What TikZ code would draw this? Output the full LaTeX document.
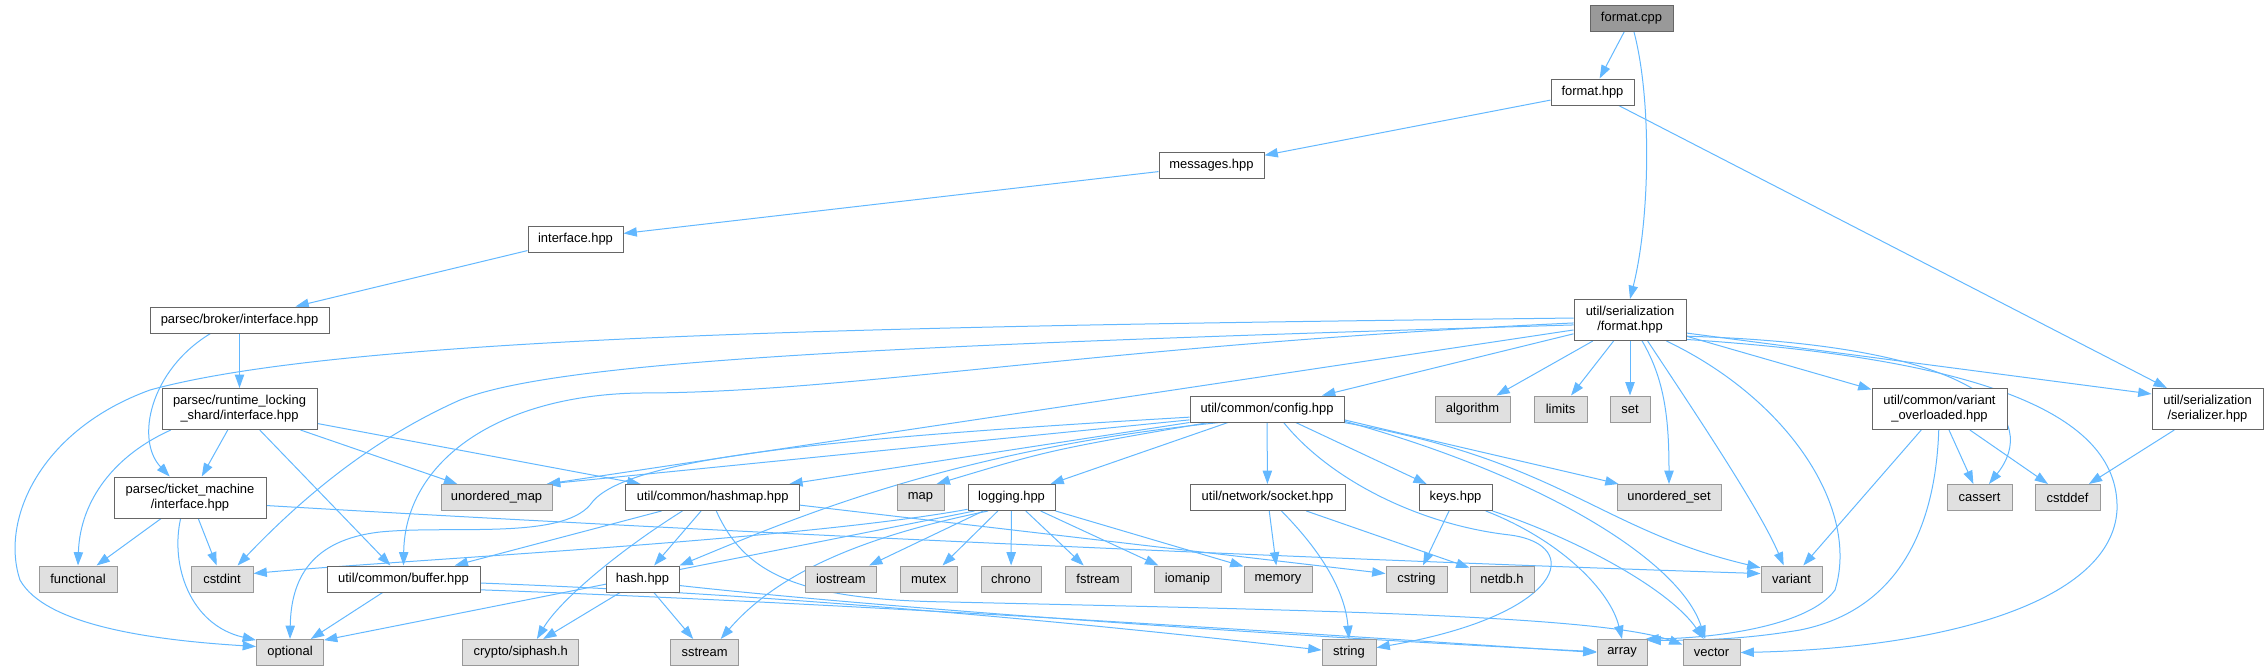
\documentclass[tikz,border=0pt]{standalone}
\usepackage{fontspec}
\setmainfont{Liberation Sans}
\usetikzlibrary{arrows.meta}
\definecolor{bordA}{HTML}{666666}
\definecolor{bordB}{HTML}{999999}
\definecolor{fillB}{HTML}{E0E0E0}
\definecolor{fillC}{HTML}{999999}
\definecolor{edgeC}{HTML}{63B8FF}
\pgfdeclarelayer{bg}
\pgfsetlayers{bg,main}
\newcommand\bx[7]{\node[#1, minimum width=#5*0.75pt, minimum height=#6*0.75pt] (#2) at (#3,#4) {#7};}
\tikzset{
  nbase/.style={draw, rectangle, inner sep=0pt, font=\fontsize{9.7}{11.25}\selectfont, align=center, line width=0.75pt},
  wnode/.style={nbase, draw=bordA, fill=white},
  gnode/.style={nbase, draw=bordB, fill=fillB},
  snode/.style={nbase, draw=bordA, fill=fillC},
  edg/.style={draw=edgeC, line width=0.75pt, -{Triangle[length=10pt,width=7pt]}}
}
\begin{document}
\begin{tikzpicture}[x=0.75pt,y=-0.75pt]
\useasboundingbox (0,0) rectangle (2268,671);
\bx{snode}{fcpp}{1631.5}{18}{83}{26}{format.cpp}
\bx{wnode}{fhpp}{1592.5}{92}{83}{26}{format.hpp}
\bx{wnode}{msg}{1211.5}{165.5}{105}{26}{messages.hpp}
\bx{wnode}{iface}{575.5}{239}{95}{26}{interface.hpp}
\bx{wnode}{broker}{239.5}{320}{179}{26}{parsec/broker/interface.hpp}
\bx{wnode}{sfmt}{1630}{320}{112}{41}{util/serialization\\/format.hpp}
\bx{wnode}{rls}{239.5}{409}{155}{41}{parsec/runtime\_locking\\\_shard/interface.hpp}
\bx{wnode}{tm}{190}{497.5}{152}{41}{parsec/ticket\_machine\\/interface.hpp}
\bx{gnode}{umap}{496.5}{497.5}{111}{26}{unordered\_map}
\bx{wnode}{hashmap}{712.7}{497.5}{173.5}{26}{util/common/hashmap.hpp}
\bx{wnode}{config}{1267}{409}{154}{26}{util/common/config.hpp}
\bx{gnode}{algorithm}{1472.5}{409}{75}{26}{algorithm}
\bx{gnode}{limits}{1560.5}{409}{53}{26}{limits}
\bx{gnode}{set}{1630}{409}{40}{26}{set}
\bx{wnode}{vo}{1939.5}{409}{135}{41}{util/common/variant\\\_overloaded.hpp}
\bx{wnode}{ser}{2207.5}{409}{111}{41}{util/serialization\\/serializer.hpp}
\bx{gnode}{map}{920.5}{497.5}{47}{26}{map}
\bx{wnode}{logging}{1011.5}{497.5}{87}{26}{logging.hpp}
\bx{wnode}{socket}{1267.5}{497.5}{155}{26}{util/network/socket.hpp}
\bx{wnode}{keys}{1455.5}{497.5}{73}{26}{keys.hpp}
\bx{gnode}{uset}{1669}{497.5}{104}{26}{unordered\_set}
\bx{gnode}{cassert}{1979.5}{497.5}{65}{26}{cassert}
\bx{gnode}{cstddef}{2067.5}{497.5}{65}{26}{cstddef}
\bx{gnode}{functional}{78}{579}{78}{26}{functional}
\bx{gnode}{cstdint}{222}{579}{62}{26}{cstdint}
\bx{wnode}{buffer}{403.5}{579}{153}{26}{util/common/buffer.hpp}
\bx{wnode}{hash}{642.5}{579}{73}{26}{hash.hpp}
\bx{gnode}{iostream}{840.8}{579}{71.5}{26}{iostream}
\bx{gnode}{mutex}{928.8}{579}{56.5}{26}{mutex}
\bx{gnode}{chrono}{1011}{579}{60}{26}{chrono}
\bx{gnode}{fstream}{1098}{579}{66}{26}{fstream}
\bx{gnode}{iomanip}{1187.5}{579}{67}{26}{iomanip}
\bx{gnode}{memory}{1278}{579}{68}{26}{memory}
\bx{gnode}{cstring}{1416.5}{579}{61}{26}{cstring}
\bx{gnode}{netdb}{1502}{579}{64}{26}{netdb.h}
\bx{gnode}{variant}{1791.5}{579}{61}{26}{variant}
\bx{gnode}{optional}{290}{652.5}{67}{26}{optional}
\bx{gnode}{siphash}{520.8}{652.5}{116}{26}{crypto/siphash.h}
\bx{gnode}{sstream}{704.6}{652.5}{68}{26}{sstream}
\bx{gnode}{string}{1349}{652.5}{54}{26}{string}
\bx{gnode}{array}{1622}{652.5}{50}{26}{array}
\bx{gnode}{vector}{1711.5}{652.5}{57}{26}{vector}
\begin{pgfonlayer}{bg}
% top part
\draw[edg] (fcpp) -- (fhpp);
\draw[edg] (fcpp.-80) .. controls (1652,100) and (1650,220) .. (sfmt.north);
\draw[edg] (fhpp) -- (msg);
\draw[edg] (fhpp) -- (ser);
\draw[edg] (msg) -- (iface);
\draw[edg] (iface) -- (broker);
\draw[edg] (broker) -- (rls);
\draw[edg] (broker.-155) .. controls (150,370) and (135,440) .. (tm.134);
% runtime locking shard
\draw[edg] (rls) -- (tm);
\draw[edg] (rls.-163) .. controls (115,455) and (80,500) .. (functional.north);
\draw[edg] (rls) -- (umap);
\draw[edg] (rls) -- (hashmap);
\draw[edg] (rls) -- (buffer);
% ticket machine
\draw[edg] (tm) -- (functional);
\draw[edg] (tm) -- (cstdint);
\draw[edg] (tm.-114) .. controls (170,565) and (190,625) .. (optional.160);
\draw[edg] (tm.-6) .. controls (800,537) and (1400,562) .. (variant.170);
% serialization format
\draw[edg] (sfmt.178) .. controls (900,326) and (350,335) .. (150,390) .. controls (40,430) and (0,520) .. (20,580) .. controls (45,625) and (150,640) .. (optional.170);
\draw[edg] (sfmt.185) .. controls (900,345) and (560,360) .. (460,400) .. controls (370,440) and (300,500) .. (cstdint.41);
\draw[edg] (sfmt.183) .. controls (1100,345) and (850,393) .. (640,393) .. controls (500,395) and (405,460) .. (buffer.north);
\draw[edg] (sfmt.190) -- (umap.15);
\draw[edg] (sfmt) -- (config);
\draw[edg] (sfmt) -- (algorithm);
\draw[edg] (sfmt) -- (limits);
\draw[edg] (sfmt) -- (set);
\draw[edg] (sfmt.-60) .. controls (1665,380) and (1669,420) .. (uset.north);
\draw[edg] (sfmt.-50) .. controls (1700,420) and (1760,510) .. (variant.120);
\draw[edg] (sfmt.-30) .. controls (1790,400) and (1860,510) .. (1835,590) .. controls (1810,625) and (1720,638) .. (array.30);
\draw[edg] (sfmt.-19) .. controls (2000,360) and (2120,420) .. (2117,510) .. controls (2112,600) and (1950,648) .. (vector.east);
\draw[edg] (sfmt) -- (vo);
\draw[edg] (sfmt.-16) .. controls (1990,345) and (2040,420) .. (cassert.55);
\draw[edg] (sfmt.-13) -- (ser.165);
% config
\draw[edg] (config.188) -- (umap.15);
\draw[edg] (config.south west) -- (hashmap.10);
\draw[edg] (config.193) .. controls (1050,450) .. (map.40);
\draw[edg] (config) -- (logging);
\draw[edg] (config) -- (socket);
\draw[edg] (config) -- (keys);
\draw[edg] (config.-8) .. controls (1450,445) and (1560,470) .. (uset.165);
\draw[edg] (config.-10) .. controls (1560,460) and (1600,530) .. (variant.160);
\draw[edg] (config.-9) .. controls (1540,475) and (1680,560) .. (vector.115);
\draw[edg] (config.-39) .. controls (1330,480) and (1420,525) .. (1510,535) .. controls (1585,545) and (1565,615) .. (string.10);
\draw[edg] (config.186) .. controls (800,440) and (620,460) .. (590,505) .. controls (560,540) and (450,525) .. (380,532) .. controls (310,540) and (291,580) .. (optional.north);
\draw[edg] (config.196) .. controls (950,450) and (790,520) .. (hash.20);
% hashmap
\draw[edg] (hashmap) -- (buffer);
\draw[edg] (hashmap) -- (hash);
\draw[edg] (hashmap.-156) .. controls (620,550) and (560,600) .. (siphash.40);
\draw[edg] (hashmap.-5) -- (cstring.170);
\draw[edg] (hashmap.-75) .. controls (745,575) and (800,600) .. (950,602) .. controls (1300,610) and (1600,615) .. (vector.165);
% buffer
\draw[edg] (buffer) -- (optional);
\draw[edg] (buffer.-3) .. controls (800,595) and (1100,625) .. (string.175);
\draw[edg] (buffer.-8) .. controls (900,605) and (1400,640) .. (array.180);
% hash
\draw[edg] (hash) -- (siphash);
\draw[edg] (hash) -- (sstream);
\draw[edg] (hash.-10) .. controls (900,610) and (1350,640) .. (array.178);
% logging
\draw[edg] (logging) -- (iostream);
\draw[edg] (logging) -- (mutex);
\draw[edg] (logging) -- (chrono);
\draw[edg] (logging) -- (fstream);
\draw[edg] (logging) -- (iomanip);
\draw[edg] (logging.-17) -- (memory.160);
\draw[edg] (logging.-165) .. controls (800,540) and (400,560) .. (cstdint.10);
\draw[edg] (logging.-160) -- (optional.20);
\draw[edg] (logging.-150) .. controls (870,535) and (780,570) .. (sstream.40);
% socket
\draw[edg] (socket) -- (memory);
\draw[edg] (socket.-44) .. controls (1320,550) and (1345,590) .. (string.north);
\draw[edg] (socket) -- (netdb);
% keys
\draw[edg] (keys) -- (cstring);
\draw[edg] (keys.-24) .. controls (1560,540) and (1610,590) .. (array.north);
\draw[edg] (keys.-20) .. controls (1580,540) and (1670,590) .. (vector.120);
% variant overloaded and serializer
\draw[edg] (vo) -- (variant);
\draw[edg] (vo.-92) .. controls (1935,540) and (1890,612) .. (1800,630) .. controls (1740,640) and (1700,640) .. (array.25);
\draw[edg] (vo) -- (cassert);
\draw[edg] (vo) -- (cstddef);
\draw[edg] (ser) -- (cstddef);
\end{pgfonlayer}
\end{tikzpicture}
\end{document}
